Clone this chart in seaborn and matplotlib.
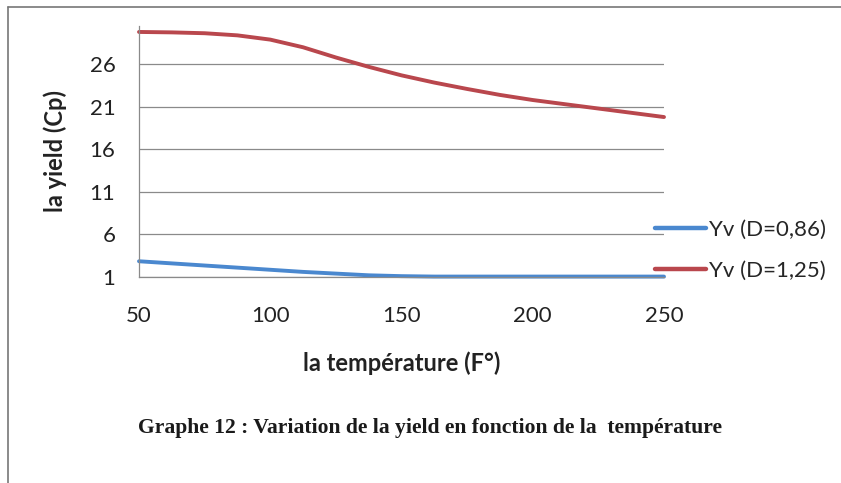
import matplotlib
matplotlib.use("Agg")
import matplotlib.pyplot as plt
from matplotlib.lines import Line2D
import seaborn as sns
import pandas as pd

temperature = [50, 62.5, 75, 87.5, 100, 112.5, 125, 137.5, 150, 162.5, 175,
               187.5, 200, 212.5, 225, 237.5, 250]
yv_086 = [2.85, 2.6, 2.35, 2.1, 1.85, 1.6, 1.4, 1.2, 1.1, 1.05, 1.05,
          1.05, 1.05, 1.05, 1.05, 1.05, 1.05]
yv_125 = [29.8, 29.75, 29.65, 29.4, 28.9, 28.0, 26.8, 25.7, 24.7, 23.85, 23.1,
          22.4, 21.8, 21.3, 20.8, 20.3, 19.8]
series_names = ["Yv (D=0,86)", "Yv (D=1,25)"]
x_ticks = [50, 100, 150, 200, 250]
y_ticks = [1, 6, 11, 16, 21, 26]

df = pd.DataFrame({
    "T": temperature * 2,
    "Y": yv_086 + yv_125,
    "serie": [series_names[0]] * len(temperature) + [series_names[1]] * len(temperature),
})

sns.set_theme(style="white")
plt.rcParams["font.family"] = ["Lato", "DejaVu Sans"]

fig = plt.figure(figsize=(8.41, 4.83), dpi=100)
ax = fig.add_axes([139 / 841, 1 - 277 / 483, 525 / 841, (277 - 26) / 483])

palette = {series_names[0]: "#4A88CF", series_names[1]: "#B9474D"}
sns.lineplot(data=df, x="T", y="Y", hue="serie", palette=palette, ax=ax,
             linewidth=2.8, legend=False, sort=True)
for ln in ax.lines:
    ln.set_clip_on(False)
    ln.set_solid_capstyle("round")

ax.set_xlim(50, 250)
ax.set_ylim(1, 30.5)
ax.set_xticks(x_ticks)
ax.set_xticklabels([str(v) for v in x_ticks])
ax.set_yticks(y_ticks)
ax.set_yticklabels([str(v) for v in y_ticks])
ax.tick_params(axis="both", length=0, labelsize=16, colors="#222222")
ax.tick_params(axis="x", pad=21)
ax.tick_params(axis="y", pad=17)
ax.yaxis.grid(True, color="#8a8a8a", linewidth=0.9)
ax.xaxis.grid(False)
for s in ["top", "right"]:
    ax.spines[s].set_visible(False)
for s in ["left", "bottom"]:
    ax.spines[s].set_color("#8a8a8a")
    ax.spines[s].set_linewidth(0.9)
ax.set_axisbelow(True)

ax.set_xlabel("la température (F°)", fontsize=17, fontweight="bold", labelpad=18,
              color="#222222")
ax.set_ylabel("la yield (Cp)", fontsize=17, fontweight="bold", labelpad=16,
              color="#222222")

handles = [Line2D([], [], color=palette[n], linewidth=3.2, solid_capstyle="round")
           for n in series_names]
fig.legend(handles, series_names, loc="upper left",
           bbox_to_anchor=(655 / 841, 1 - 220 / 483), frameon=False,
           fontsize=16, handlelength=2.3, handletextpad=0.13,
           labelspacing=0.94, borderpad=0, borderaxespad=0)

fig.text(430 / 841, 1 - 428 / 483,
         "Graphe 12 : Variation de la yield en fonction de la  température",
         family=["Liberation Serif", "DejaVu Serif"], fontsize=15.6,
         fontweight="bold", ha="center", va="center", color="#1a1a1a")

# outer frame (left and top edges visible)
fig.add_artist(Line2D([8 / 841, 8 / 841], [0, 1 - 7 / 483], transform=fig.transFigure,
                      color="#777777", linewidth=1.2))
fig.add_artist(Line2D([8 / 841, 1], [1 - 7 / 483, 1 - 7 / 483], transform=fig.transFigure,
                      color="#777777", linewidth=1.2))

fig.savefig("out.png", dpi=100)
